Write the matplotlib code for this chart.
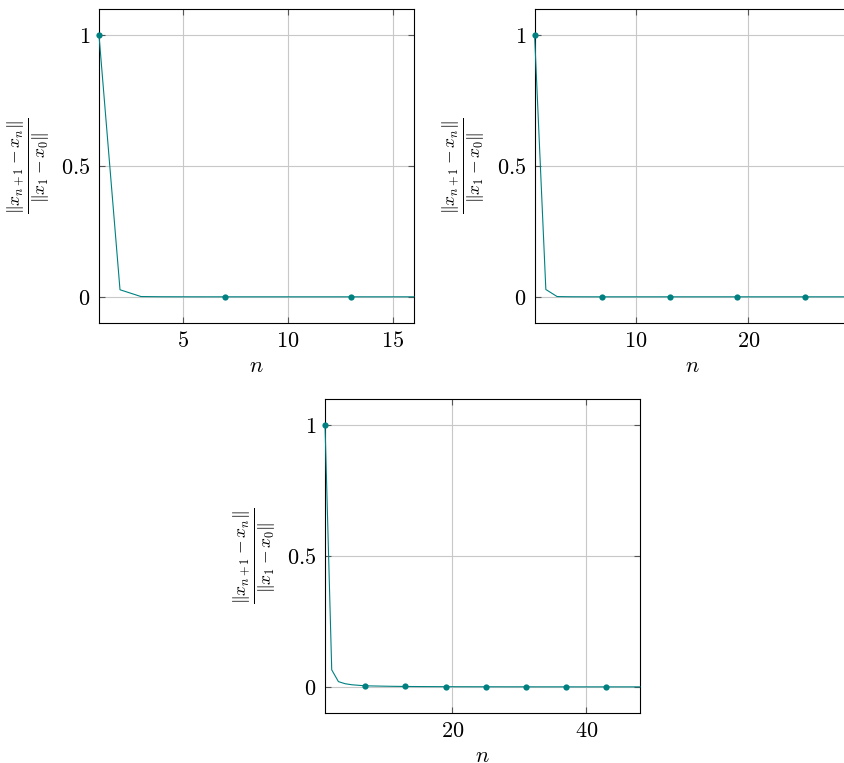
import matplotlib
matplotlib.use("Agg")
import matplotlib.pyplot as plt
from matplotlib.ticker import FixedLocator, FuncFormatter

plt.rcParams['mathtext.fontset'] = 'cm'
plt.rcParams['font.family'] = 'serif'
plt.rcParams['font.serif'] = ['cmr10', 'DejaVu Serif']
plt.rcParams['axes.unicode_minus'] = False

# residual ratios, n = 1, 2, ...
res_16 = [1.0, 0.027, 0.001, 0.0003, 0.0001, 0.0, 0.0, 0.0, 0.0, 0.0, 0.0, 0.0, 0.0, 0.0, 0.0, 0.0]
res_29 = [1.0, 0.028, 0.001, 0.0003, 0.0001, 0.0, 0.0, 0.0, 0.0, 0.0,
          0.0, 0.0, 0.0, 0.0, 0.0, 0.0, 0.0, 0.0, 0.0, 0.0,
          0.0, 0.0, 0.0, 0.0, 0.0, 0.0, 0.0, 0.0, 0.0]
res_48 = [1.0, 0.065, 0.02, 0.012, 0.008, 0.006, 0.004, 0.0035, 0.003, 0.0025,
          0.0021, 0.0018, 0.0015, 0.0013, 0.0011, 0.001, 0.0009, 0.0008, 0.0007, 0.0006,
          0.0005, 0.0005, 0.0004, 0.0004, 0.0003, 0.0003, 0.0003, 0.0002, 0.0002, 0.0002,
          0.0002, 0.0001, 0.0001, 0.0001, 0.0001, 0.0001, 0.0001, 0.0, 0.0, 0.0,
          0.0, 0.0, 0.0, 0.0, 0.0, 0.0, 0.0, 0.0]

panels = [
    (res_16, [5, 10, 15], [0.1173, 0.5767, 0.3732, 0.4115]),
    (res_29, [10, 20], [0.6334, 0.5767, 0.3732, 0.4115]),
    (res_48, [20, 40], [0.3851, 0.0655, 0.3732, 0.4115]),
]

teal = (0.0, 0.5, 0.5)
ylabel = r'$\frac{\Vert x_{n+1}-x_n\Vert}{\Vert x_1-x_0\Vert}$'

fig = plt.figure(figsize=(8.44, 7.63), dpi=100)

for values, xticks, rect in panels:
    ax = fig.add_axes(rect)
    n = list(range(1, len(values) + 1))
    ax.plot(n, values, color=teal, lw=0.8, marker='o', markersize=4.5,
            markevery=6, markeredgewidth=0, clip_on=False, zorder=3)
    ax.set_xlim(1, len(values))
    ax.set_ylim(-0.1, 1.1)
    ax.xaxis.set_major_locator(FixedLocator(xticks))
    ax.yaxis.set_major_locator(FixedLocator([0, 0.5, 1]))
    ax.xaxis.set_major_formatter(FuncFormatter(lambda v, p: r'$%g$' % v))
    ax.yaxis.set_major_formatter(FuncFormatter(lambda v, p: r'$%g$' % v))
    ax.grid(True, color='#c8c8c8', lw=0.8)
    ax.set_axisbelow(True)
    ax.tick_params(direction='in', length=4, width=0.8, color='#555555',
                   top=True, right=True, labelsize=16, pad=6)
    for s in ax.spines.values():
        s.set_linewidth(0.8)
    ax.set_xlabel(r'$n$', fontsize=16, labelpad=4)
    ax.set_ylabel(ylabel, fontsize=18, labelpad=7)

fig.savefig('out.png', dpi=100)
